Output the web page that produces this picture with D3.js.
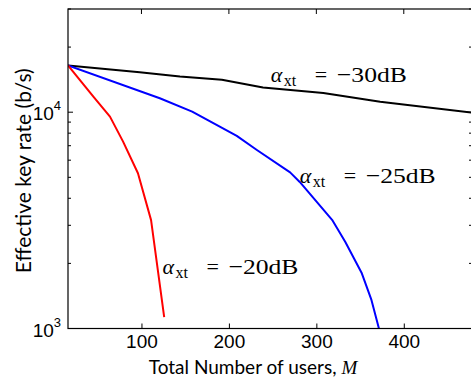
<!DOCTYPE html>
<html>
<head>
<meta charset="utf-8">
<script src="https://cdn.jsdelivr.net/npm/d3@7"></script>
<style>
  body { margin: 0; background: #fff; }
</style>
</head>
<body>
<div id="chart"></div>
<script>
// tick values
const xTicks = [100, 200, 300, 400];
const yMajor = [1000, 10000];
const yMinor = [2000, 3000, 4000, 5000, 6000, 7000, 8000, 9000, 20000, 30000];
const yMajorExp = ["3", "4"];

// series (M, effective key rate)
const mBlack = [16, 98, 144, 192, 239, 308, 373, 478];
const rBlack = [16440, 15310, 14620, 14120, 13010, 12280, 11190, 9960];

const mBlue = [16, 121, 158, 209, 232, 270, 281, 318, 333, 352, 363, 372];
const rBlue = [16440, 11600, 10060, 7770, 6690, 5270, 4760, 3180, 2520, 1800, 1356, 985];

const mRed = [16, 45, 64, 79, 96, 111, 126];
const rRed = [16440, 11810, 9540, 7310, 5220, 3170, 1130];

// curve annotations
const labelDb = ["−30dB", "−25dB", "−20dB"];
const labelM = [248, 281, 124];
const labelR = [13800, 4720, 1790];

const width = 471, height = 379;
const margin = {top: 9, right: -1, bottom: 50.5, left: 68};
const plotW = width - margin.left - margin.right,
      plotH = height - margin.top - margin.bottom;

const svg = d3.select("#chart")
  .append("svg")
    .attr("width", width)
    .attr("height", height);

const g = svg.append("g")
    .attr("transform", `translate(${margin.left},${margin.top})`);

const x = d3.scaleLinear().domain([16, 478]).range([0, plotW]);
const y = d3.scaleLog().domain([1000, 30000]).range([plotH, 0]);

g.append("clipPath").attr("id", "clip")
  .append("rect").attr("width", plotW).attr("height", plotH);

// lines
const series = [
  {m: mBlack, r: rBlack, color: "#000000"},
  {m: mBlue, r: rBlue, color: "#0000ff"},
  {m: mRed, r: rRed, color: "#ff0000"}
];
const line = d3.line()
  .x(d => x(d[0]))
  .y(d => y(d[1]));

g.append("g").attr("clip-path", "url(#clip)")
  .selectAll("path")
  .data(series)
  .join("path")
    .attr("fill", "none")
    .attr("stroke", d => d.color)
    .attr("stroke-width", 2)
    .attr("stroke-linejoin", "round")
    .attr("d", d => line(d.m.map((v, i) => [v, d.r[i]])));

// frame
g.append("rect")
  .attr("width", plotW).attr("height", plotH)
  .attr("fill", "none").attr("stroke", "#000").attr("stroke-width", 1.2);

// x ticks (bottom + top), inward
const xAxis = g.append("g")
  .attr("transform", `translate(0,${plotH})`)
  .call(d3.axisBottom(x).tickValues(xTicks).tickSize(-5).tickPadding(6).tickFormat(d3.format("d")));
xAxis.select(".domain").remove();
xAxis.selectAll("text").attr("font-family", "Liberation Sans, Arial, sans-serif").attr("font-size", 19).attr("fill", "#000");

g.append("g")
  .selectAll("line")
  .data(xTicks)
  .join("line")
    .attr("x1", d => x(d)).attr("x2", d => x(d))
    .attr("y1", 0).attr("y2", 5)
    .attr("stroke", "#000");

// y ticks, left and right
const yTicks = yMajor.map(v => ({v, len: 5})).concat(yMinor.map(v => ({v, len: 3})));
g.append("g")
  .selectAll("line")
  .data(yTicks)
  .join("line")
    .attr("x1", 0).attr("x2", d => d.len)
    .attr("y1", d => y(d.v)).attr("y2", d => y(d.v))
    .attr("stroke", "#000");
g.append("g")
  .selectAll("line")
  .data(yTicks)
  .join("line")
    .attr("x1", plotW).attr("x2", d => plotW - d.len)
    .attr("y1", d => y(d.v)).attr("y2", d => y(d.v))
    .attr("stroke", "#000");

// y tick labels 10^n
const yLab = g.append("g")
  .selectAll("text")
  .data(yMajor)
  .join("text")
    .attr("x", -7)
    .attr("y", d => y(d) + 8)
    .attr("text-anchor", "end")
    .attr("font-family", "Liberation Sans, Arial, sans-serif")
    .attr("font-size", 19)
    .attr("fill", "#000");
yLab.append("tspan").text("10");
yLab.append("tspan")
  .attr("dy", -10)
  .attr("font-size", 13)
  .text((d, i) => yMajorExp[i]);

// axis labels
svg.append("text")
  .attr("transform", `translate(31,${margin.top + plotH / 2 + 2}) rotate(-90)`)
  .attr("text-anchor", "middle")
  .attr("font-family", "Lato, sans-serif")
  .attr("font-size", 21)
  .attr("fill", "#000")
  .text("Effective key rate (b/s)");

const xl = svg.append("text")
  .attr("x", 253)
  .attr("y", 374)
  .attr("text-anchor", "middle")
  .attr("font-family", "Lato, sans-serif")
  .attr("font-size", 19)
  .attr("fill", "#000");
xl.append("tspan").text("Total Number of users, ");
xl.append("tspan")
  .attr("font-family", "Liberation Serif, serif")
  .attr("font-style", "italic")
  .text("M");

// annotations
const ann = g.append("g")
  .selectAll("g")
  .data(labelDb)
  .join("g")
    .attr("transform", (d, i) => `translate(${x(labelM[i])},${y(labelR[i])})`)
    .attr("font-family", "Liberation Serif, serif")
    .attr("fill", "#000");
ann.append("text")
  .attr("font-size", 22)
  .attr("font-style", "italic")
  .text("α");
ann.append("text")
  .attr("x", 13).attr("y", 4)
  .attr("font-size", 16)
  .text("xt");
ann.append("text")
  .attr("x", 44)
  .attr("font-size", 22)
  .text("=");
ann.append("text")
  .attr("x", 66)
  .attr("font-size", 22)
  .attr("textLength", 70)
  .attr("lengthAdjust", "spacingAndGlyphs")
  .text(d => d);
</script>
</body>
</html>
